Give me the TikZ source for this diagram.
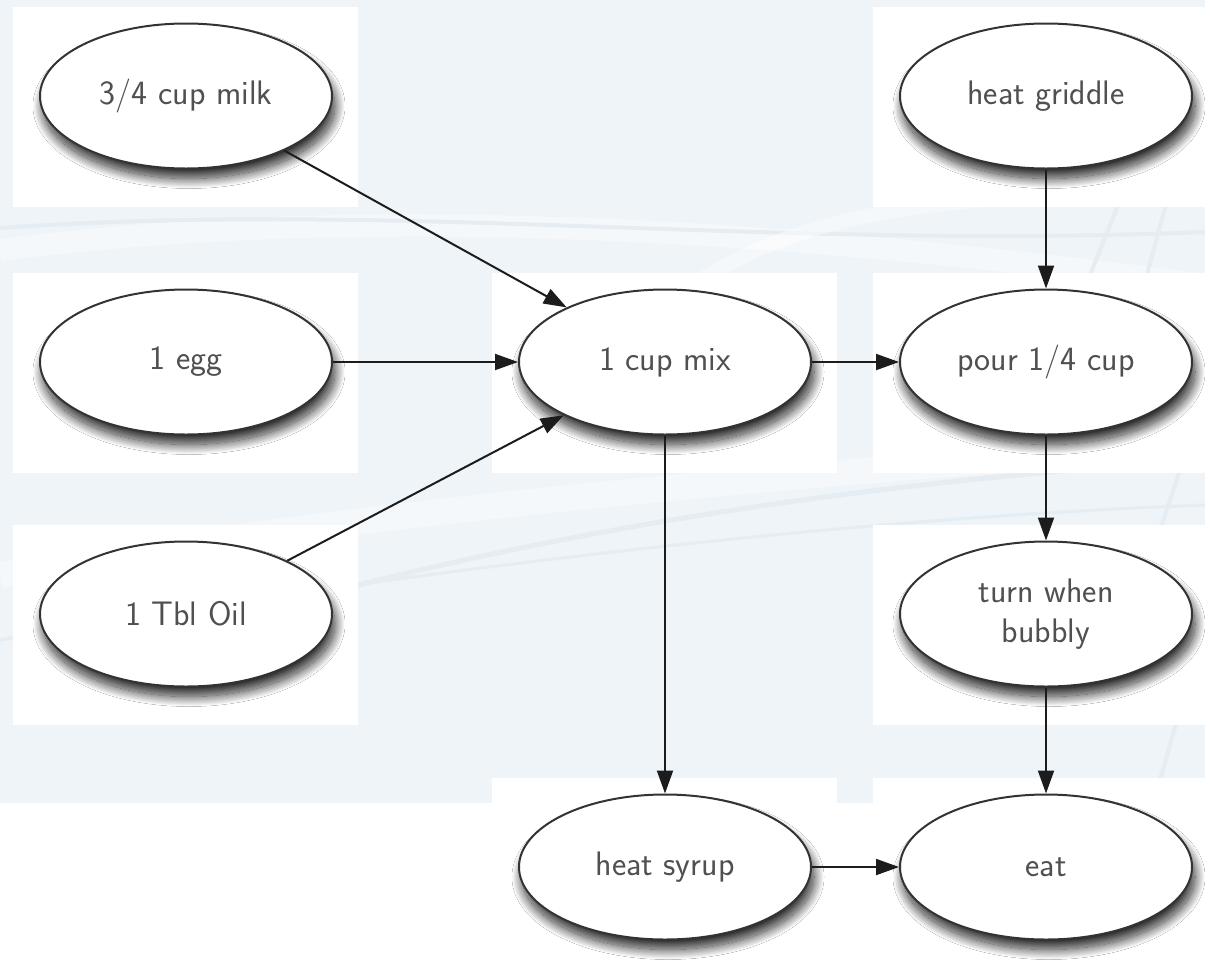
\documentclass[tikz,border=0pt]{standalone}
\usetikzlibrary{shapes.geometric,arrows.meta,shadows.blur}
\definecolor{bg}{RGB}{238,244,248}
\definecolor{swirl}{RGB}{229,237,243}
\definecolor{txt}{RGB}{80,80,80}
\definecolor{edgec}{RGB}{28,28,28}
\begin{document}
\begin{tikzpicture}[x=1pt,y=-1pt,
  oval/.style={ellipse, draw=edgec!90, line width=2pt, fill=white,
    minimum width=292pt, minimum height=145pt, inner sep=0pt,
    font=\sffamily\fontsize{34}{40}\selectfont, text=txt, align=center,
    blur shadow={shadow xshift=3pt, shadow yshift=-10pt, shadow blur radius=10pt, shadow blur steps=30, shadow opacity=85}},
  card/.style={fill=white},
  conn/.style={draw=edgec, line width=2pt, -{Triangle[length=23pt,width=16pt]}}]
\useasboundingbox (0,0) rectangle (1205,975);
\fill[white] (0,0) rectangle (1205,975);
\fill[bg] (0,0) rectangle (1205,803);
% faint background swirls
\draw[white, opacity=0.45, line width=22pt] (0,250) .. controls (350,205) and (750,225) .. (1205,285);
\draw[swirl, line width=4pt] (0,228) .. controls (400,200) and (760,250) .. (1205,232);
\draw[white, opacity=0.45, line width=14pt] (700,280) .. controls (800,220) and (900,195) .. (1205,190);
\draw[white, opacity=0.45, line width=26pt] (0,575) .. controls (300,520) and (700,480) .. (1205,445);
\draw[swirl, line width=5pt] (300,600) .. controls (600,520) and (900,480) .. (1205,460);
\draw[swirl, line width=3pt] (0,640) .. controls (350,580) and (800,520) .. (1205,505);
\draw[swirl, line width=4pt] (1120,200) -- (1080,300);
\draw[swirl, line width=4pt] (1170,190) -- (1140,300);
\draw[swirl, line width=4pt] (1190,440) -- (1150,560);
\draw[swirl, line width=4pt] (1200,640) -- (1160,780);
% node centres
\coordinate (pmilk) at (186,96);
\coordinate (pegg) at (186,362);
\coordinate (poil) at (186,614);
\coordinate (pmix) at (665,362);
\coordinate (psyrup) at (665,867);
\coordinate (pgrid) at (1046,96);
\coordinate (ppour) at (1046,362);
\coordinate (pturn) at (1046,614);
\coordinate (peat) at (1046,867);
% white cards
\foreach \p in {pmilk,pegg,poil,pmix,psyrup,pgrid,ppour,pturn,peat}
  \fill[card] (\p) ++(-173,-89) rectangle ++(345,200);
% nodes
\node[oval] (milk) at (pmilk) {3/4 cup milk};
\node[oval] (egg) at (pegg) {1 egg};
\node[oval] (oil) at (poil) {1 Tbl Oil};
\node[oval] (mix) at (pmix) {1 cup mix};
\node[oval] (syrup) at (psyrup) {heat syrup};
\node[oval] (grid) at (pgrid) {heat griddle};
\node[oval] (pour) at (ppour) {pour 1/4 cup};
\node[oval] (turn) at (pturn) {turn when\\bubbly};
\node[oval] (eat) at (peat) {eat};
% connectors
\draw[conn] (milk) -- (mix);
\draw[conn] (egg) -- (mix);
\draw[conn] (oil) -- (mix);
\draw[conn] (mix) -- (pour);
\draw[conn] (mix) -- (syrup);
\draw[conn] (syrup) -- (eat);
\draw[conn] (grid) -- (pour);
\draw[conn] (pour) -- (turn);
\draw[conn] (turn) -- (eat);
\end{tikzpicture}
\end{document}
